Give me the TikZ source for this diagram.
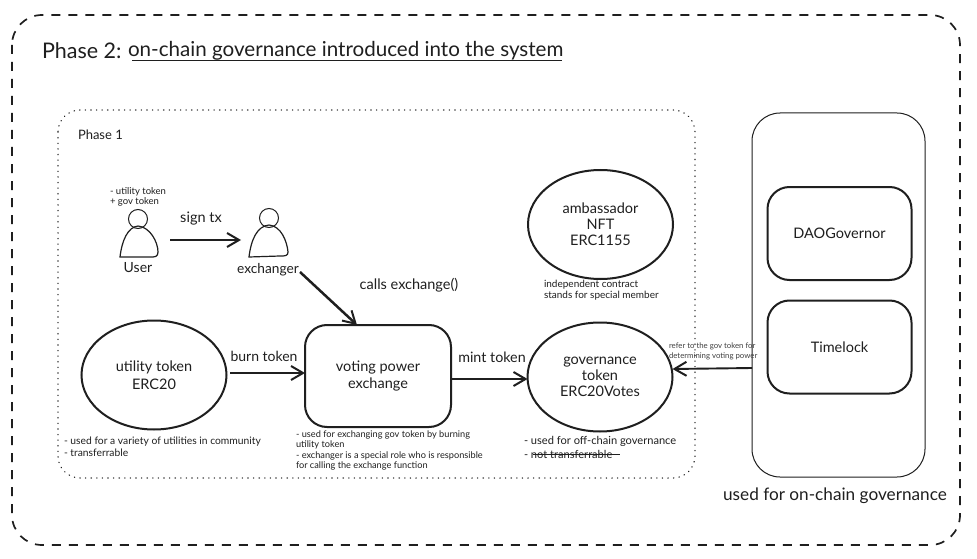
\documentclass[tikz,border=0pt]{standalone}
\usepackage{fontspec}
\setmainfont{Lato}
\usetikzlibrary{arrows.meta,shapes.geometric}
\newcommand{\fs}[1]{\fontsize{#1}{#1}\selectfont}
\colorlet{ink}{black!88}
\tikzset{
  x=1pt,y=-1pt,
  every node/.style={text=ink,inner sep=0pt,outer sep=0pt},
  txt/.style={anchor=west,align=left},
  ctr/.style={anchor=center,align=center},
  shapeline/.style={draw=ink,line width=2pt},
  tokenell/.style={shapeline,ellipse,minimum width=145pt,minimum height=109pt,align=center,font=\fs{14.5},text=ink},
  roundbox/.style={shapeline,rectangle,rounded corners=22pt,minimum width=144pt,minimum height=93pt,align=center,font=\fs{14.5}},
  conn/.style={draw=ink,line width=2.5pt,-{Straight Barb[length=12pt,width=14pt,line width=2pt]}},
  head/.style={circle,draw=ink,line width=1pt,minimum size=19pt},
  bodyline/.style={draw=ink,line width=1.2pt},
}
\begin{document}
\begin{tikzpicture}
\useasboundingbox (0,0) rectangle (977,559);
\fill[white] (0,0) rectangle (977,559);
% frames
\draw[draw=ink,line width=1.7pt,rounded corners=30pt,dash pattern=on 9pt off 8pt] (12,15) rectangle (960,545);
\draw[draw=ink,line width=1.3pt,rounded corners=22pt,line cap=round,dash pattern=on .3pt off 5.3pt] (58,110) rectangle (695,478);
\node[rectangle,draw=ink,line width=1pt,rounded corners=28pt,minimum width=173pt,minimum height=364pt] (govframe) at (838.5,295) {};
% title
\node[txt,font=\fs{21.5}] (phase2) at (42,51) {Phase 2:};
\node[txt,font=\fs{20.6}] (titlemain) at (128,51) {on-chain governance introduced into the system};
\draw[draw=ink,line width=1.5pt] (132,60.5) -- (562,60.5);
\node[txt,font=\fs{13}] (phase1) at (78,135) {Phase 1};
% people
\node[head] (userhead) at (138,219) {};
\draw[bodyline] (120,257) .. controls (122,240) and (128,227) .. (138,226) .. controls (150,227) and (158,242) .. (158,252) .. controls (158,257) and (155,257) .. (150,257) -- cycle;
\coordinate (userpt) at (170,240);
\node[head] (exchead) at (269,218) {};
\draw[bodyline] (249,257) .. controls (251,240) and (257,226) .. (269,225) .. controls (281,226) and (287,241) .. (288,252) .. controls (288,256) and (285,256) .. (280,256) -- cycle;
\coordinate (excpt) at (241,240);
\node[ctr,font=\fs{14}] (userlbl) at (138,268) {User};
\node[ctr,font=\fs{13.7}] (exclbl) at (268,270) {exchanger};
\node[txt,font=\fs{9.5}] (usernote1) at (110,192) {- utility token};
\node[txt,font=\fs{9.5}] (usernote2) at (110,202) {+ gov token};
\node[ctr,font=\fs{14.5}] (signtx) at (201,219) {sign tx};
\node[ctr,font=\fs{14.5}] (callslbl) at (409,285) {calls exchange()};
% tokens
\node[tokenell] (utility) at (154,375) {utility token\\[4pt]ERC20};
\node[shapeline,rectangle,rounded corners=22pt,minimum width=146pt,minimum height=102pt,align=center,font=\fs{14.5}] (voting) at (378,376) {voting power\\[3pt]exchange};
\node[tokenell] (gov) at (600,377) {governance\\[1.5pt]token\\[1.5pt]ERC20Votes};
\node[tokenell] (amb) at (600.5,224.5) {ambassador\\[1.5pt]NFT\\[1.5pt]ERC1155};
% right boxes
\node[roundbox] (dao) at (839.5,233.5) {DAOGovernor};
\node[roundbox] (timelock) at (839.5,347) {Timelock};
\node[ctr,font=\fs{17.2}] (onchain) at (835,496) {used for on-chain governance};
% connectors
\draw[conn] (userpt) -- (excpt);
\coordinate (excout) at (300,272);
\draw[conn] (excout) -- ([xshift=-21pt]voting.north);
\coordinate (burnstart) at (230,373);
\draw[conn] (burnstart) -- (voting.west |- burnstart);
\coordinate (mintstart) at (voting.east |- 0,379);
\draw[conn] (mintstart) -- (gov.west |- mintstart);
\draw[conn,line width=1.9pt] (govframe.west |- 0,368) -- (gov.east |- 0,369);
% edge labels
\node[ctr,font=\fs{14}] (burnlbl) at (264,356) {burn token};
\node[ctr,font=\fs{14.3}] (mintlbl) at (492,357) {mint token};
\node[txt,font=\fs{7.8},text=ink!85] (refer1) at (669,346) {refer to the gov token for};
\node[txt,font=\fs{7.8},text=ink!85] (refer2) at (669,356) {determining voting power};
% notes
\node[txt,font=\fs{10.3}] (un1) at (64,442) {- used for a variety of utilities in community};
\node[txt,font=\fs{10.3}] (un2) at (64,453) {- transferrable};
\node[txt,font=\fs{9.2}] (vn1) at (296,435) {- used for exchanging gov token by burning};
\node[txt,font=\fs{9.2}] (vn2) at (296,445) {utility token};
\node[txt,font=\fs{9.2}] (vn3) at (296,456) {- exchanger is a special role who is responsible};
\node[txt,font=\fs{9.2}] (vn4) at (296,466) {for calling the exchange function};
\node[txt,font=\fs{10}] (an1) at (544,285) {independent contract};
\node[txt,font=\fs{10}] (an2) at (544,296) {stands for special member};
\node[txt,font=\fs{11.1}] (gn1) at (524,441) {- used for off-chain governance};
\node[txt,font=\fs{11.1}] (gn2) at (524,454) {- not transferrable};
\draw[draw=ink,line width=1pt] (533,454) -- (620,454);
\end{tikzpicture}
\end{document}
